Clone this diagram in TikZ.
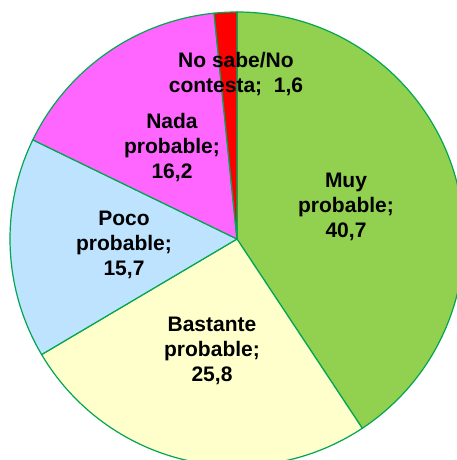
\documentclass[tikz,border=0pt]{standalone}
\usepackage{fontspec}
\setmainfont{Liberation Sans}
\definecolor{muyGreen}{RGB}{146,208,80}
\definecolor{bastanteYellow}{RGB}{255,255,204}
\definecolor{pocoBlue}{RGB}{189,227,255}
\definecolor{nadaPink}{RGB}{255,102,255}
\definecolor{nsRed}{RGB}{255,0,0}
\definecolor{edgeGreen}{RGB}{0,166,80}
\begin{document}
\begin{tikzpicture}[x=1pt,y=1pt]
\useasboundingbox (-237,-221) rectangle (220,239);
\clip (-237,-221) rectangle (220,239);
\filldraw [fill=muyGreen, draw=edgeGreen, line width=1.2pt] (0,0) -- (90:227) arc (90:-56.5:227) -- cycle;
\filldraw [fill=bastanteYellow, draw=edgeGreen, line width=1.2pt] (0,0) -- (-56.5:227) arc (-56.5:-149.4:227) -- cycle;
\filldraw [fill=pocoBlue, draw=edgeGreen, line width=1.2pt] (0,0) -- (-149.4:227) arc (-149.4:-205.9:227) -- cycle;
\filldraw [fill=nadaPink, draw=edgeGreen, line width=1.2pt] (0,0) -- (-205.9:227) arc (-205.9:-264.2:227) -- cycle;
\filldraw [fill=nsRed, draw=edgeGreen, line width=1.2pt] (0,0) -- (-264.2:227) arc (-264.2:-270:227) -- cycle;
\node [align=center, font=\bfseries\fontsize{21}{25}\selectfont] (muy) at (109,32) {Muy\\probable;\\40,7};
\node [align=center, font=\bfseries\fontsize{21}{25}\selectfont] (bastante) at (-25,-112) {Bastante\\probable;\\25,8};
\node [align=center, font=\bfseries\fontsize{21}{25}\selectfont] (poco) at (-113,-6) {Poco\\probable;\\15,7};
\node [align=center, font=\bfseries\fontsize{21}{25}\selectfont] (nada) at (-65,91) {Nada\\probable;\\16,2};
\node [align=center, font=\bfseries\fontsize{21}{25}\selectfont] (nosabe) at (-1,165) {No sabe/No\\contesta;~ 1,6};
\end{tikzpicture}
\end{document}
